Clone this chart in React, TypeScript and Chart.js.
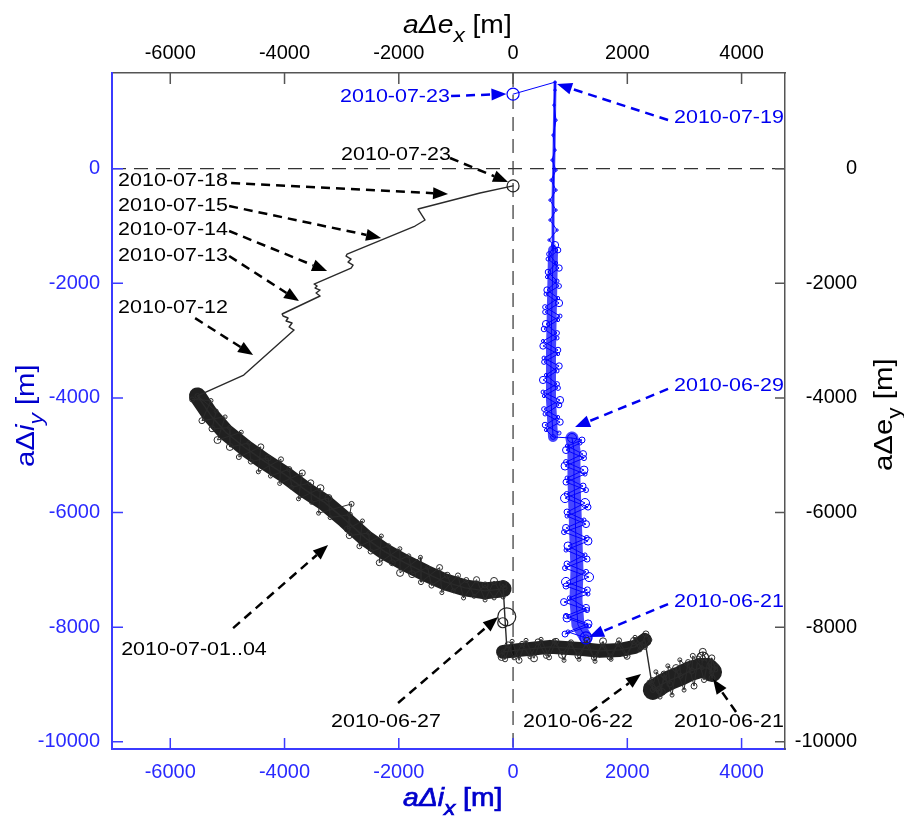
import React, { useEffect, useRef } from 'react';
import { Chart, registerables } from 'chart.js';

Chart.register(...registerables);

// ---------- axis ranges & ticks ----------
const X_MIN = -7020;
const X_MAX = 4760;
const Y_MIN = -10125;
const Y_MAX = 1670;
const xTicks = [-6000, -4000, -2000, 0, 2000, 4000];
const yTicks = [-10000, -8000, -6000, -4000, -2000, 0];

// ---------- eccentricity vector (black, top/right axes) ----------
const eccClusterX = [3483, 3413, 3273, 3098, 2923, 2748, 2608, 2503, 2447];
const eccClusterY = [-8783, -8713, -8713, -8765, -8852, -8922, -8992, -9062, -9093];
const eccClusterZigX = [3321, 3548, 3479, 3470, 3321, 3304, 3146, 3129, 2919, 2930, 2709, 2744, 2500, 2605, 2380, 2447, 2560, 2660];
const eccClusterZigY = [-8537, -8744, -8535, -8790, -8430, -8710, -8500, -8762, -8570, -8849, -8675, -8989, -8779, -9128, -8960, -9093, -9110, -8880];
const eccClusterZig2X = [2433, 2573, 2643, 2783, 2853, 2993, 3063, 3168, 3238, 3343, 3413, 3483, 3553];
const eccClusterZig2Y = [-8922, -9219, -8817, -9184, -8713, -9097, -8608, -9027, -8538, -8922, -8573, -8887, -8678];

const eccLowerX = [2307, 2133, 1870, 1521, 1171, 647, 122, -175];
const eccLowerY = [-8221, -8343, -8396, -8413, -8378, -8343, -8396, -8430];
const eccLowerZigX = [2307, 2395, 2325, 2220, 2115, 1975, 1835, 1696, 1556, 1416, 1276, 1136, 996, 857, 717, 577, 437, 297, 157, 17, -87, -175, -200];
const eccLowerZigY = [-8343, -8221, -8117, -8396, -8239, -8500, -8291, -8518, -8308, -8535, -8291, -8500, -8274, -8483, -8239, -8500, -8256, -8518, -8291, -8535, -8308, -8430, -8520];
const eccLowerZig2X = [-140, -17, 105, 227, 367, 490, 630, 752, 892, 1015, 1155, 1295, 1435, 1575, 1715, 1855, 1995, 2135, 2257];
const eccLowerZig2Y = [-8560, -8246, -8578, -8229, -8543, -8211, -8526, -8246, -8578, -8264, -8560, -8229, -8595, -8246, -8560, -8229, -8508, -8176, -8333];

const eccDropX = [-175, -110, -140, -170];
const eccDropY = [-8430, -8338, -7872, -7349];

const eccArcX = [-5524, -5297, -5035, -4685, -4336, -3986, -3636, -3287, -2937, -2587, -2238, -1888, -1538, -1189, -839, -490, -175];
const eccArcY = [-3964, -4296, -4593, -4872, -5116, -5342, -5604, -5831, -6127, -6441, -6685, -6877, -7052, -7209, -7313, -7366, -7331];
const eccArcZigX = [-5524, -5197, -5270, -4963, -4957, -4625, -4590, -4288, -4246, -3917, -3874, -3541, -3527, -3230, -3202, -2856, -2867, -2528, -2493, -2178, -2113, -1825, -1767, -1495, -1428, -1154, -1044, -818, -682, -489, -332, -175, -140];
const eccArcZigY = [-3966, -4229, -4538, -4517, -4855, -4787, -5110, -5047, -5363, -5241, -5558, -5480, -5821, -5745, -6087, -6036, -6402, -6357, -6680, -6578, -6875, -6755, -7074, -6957, -7274, -7093, -7363, -7177, -7461, -7262, -7489, -7245, -7315];
const eccArcZig2X = [-5618, -5287, -5446, -5040, -5173, -4757, -4800, -4415, -4459, -4062, -4085, -3689, -3756, -3371, -3404, -2826, -2902, -2636, -2690, -2305, -2342, -1981, -1978, -1621, -1612, -1286, -1246, -964, -866, -639, -490, -333, -175];
const eccArcZig2Y = [-4026, -4045, -4396, -4331, -4734, -4598, -5031, -4853, -5289, -5071, -5492, -5308, -5760, -5574, -6010, -5849, -6289, -6146, -6587, -6409, -6874, -6631, -7052, -6781, -7214, -6959, -7397, -7097, -7490, -7170, -7525, -7193, -7473];

const eccThinX = [-5524, -4714, -3833, -3920, -3868, -3973, -3938, -4025, -4043, -3378, -3448, -3378, -3465, -3430, -3483, -2835, -2800, -2888, -2835, -2923, -2905, -1715, -1540, -1663, -578, 0];
const eccThinY = [-3964, -3600, -2815, -2762, -2692, -2657, -2605, -2570, -2535, -2221, -2169, -2117, -2082, -2047, -2012, -1733, -1681, -1629, -1576, -1524, -1489, -1000, -895, -703, -424, -300];

const eccMarkX = [3321, -110, -180, 0];
const eccMarkY = [-8537, -7818, -7922, -300];

// ---------- inclination vector (blue, bottom/left axes) ----------
const incLowerX = [1276, 1136, 1101, 1119, 1101, 1084, 1066, 1066, 1031];
const incLowerY = [-8186, -7960, -7524, -7001, -6478, -5955, -5432, -4909, -4699];
const incLowerZigX = [1276, 962, 1312, 927, 1278, 985, 1300, 927, 1278, 945, 1260, 962, 1290, 927, 1242, 945, 1260, 940, 1225, 945, 1242, 927, 1225, 950, 1207, 1032];
const incLowerZigY = [-8186, -8082, -7942, -7803, -7663, -7489, -7349, -7210, -7035, -6896, -6739, -6582, -6443, -6268, -6129, -5990, -5833, -5676, -5537, -5397, -5258, -5118, -4979, -4839, -4734, -4699];
const incLowerZig2X = [910, 1330, 945, 1295, 892, 1312, 927, 1330, 910, 1295, 927, 1312, 892, 1277, 945, 1312, 910, 1277, 927, 1260, 910, 1242, 927, 1172];
const incLowerZig2Y = [-8119, -7980, -7840, -7701, -7561, -7421, -7282, -7125, -6968, -6811, -6654, -6497, -6340, -6201, -6061, -5904, -5747, -5607, -5468, -5328, -5188, -5049, -4909, -4787];

const incUpperX = [700, 664, 664, 682, 700];
const incUpperY = [-4681, -4036, -3163, -2291, -1420];
const incNeckX = [700, 700, 717, 735];
const incNeckY = [-1420, -548, 324, 1510];
const incUpperZigX = [700, 577, 822, 560, 805, 542, 787, 525, 770, 542, 787, 525, 770, 542, 787, 560, 805, 577, 805, 595, 805, 612, 787, 630, 770, 647, 752, 647, 752, 665, 752, 682, 735, 700, 752, 717, 735, 735];
const incUpperZigY = [-4681, -4559, -4420, -4280, -4123, -3966, -3826, -3686, -3529, -3372, -3233, -3093, -2954, -2797, -2640, -2501, -2344, -2187, -2047, -1890, -1733, -1576, -1420, -1245, -1071, -896, -722, -548, -373, -199, -24, 150, 324, 586, 847, 1109, 1371, 1510];
const incUpperZig2X = [805, 560, 787, 542, 822, 525, 770, 577, 805, 542, 787, 525, 770, 577, 822, 560, 787, 595, 770, 612, 752, 630, 735];
const incUpperZig2Y = [-4612, -4473, -4333, -4194, -4037, -3897, -3757, -3600, -3443, -3304, -3164, -3007, -2867, -2710, -2571, -2414, -2257, -2117, -1960, -1803, -1646, -1489, -1332];

const incTopX = [735, 0];
const incTopY = [1510, 1301];

const incMarkX = [1276, 0];
const incMarkY = [-8186, 1301];

// ---------- annotation texts ----------
const labelTexts = [
  '2010-07-23', '2010-07-19', '2010-07-23', '2010-07-18', '2010-07-15', '2010-07-14', '2010-07-13',
  '2010-07-12', '2010-07-01..04', '2010-06-27', '2010-06-22', '2010-06-21', '2010-06-29', '2010-06-21',
];

const BLUE_TXT = '#0000f0';
const BLACK = '#000000';
// text anchor (left, middle) and arrow tail/tip, in data units
const annotations = [
  { i: 0, c: BLUE_TXT, tx: -3028, ty: 1251, ax: -1085, ay: 1269, bx: -115, by: 1304 },
  { i: 1, c: BLUE_TXT, tx: 2818, ty: 885, ax: 2713, ay: 850, bx: 770, by: 1478 },
  { i: 2, c: BLACK, tx: -3010, ty: 239, ax: -1103, ay: 187, bx: -88, by: -232 },
  { i: 3, c: BLACK, tx: -6913, ty: -215, ax: -4935, ay: -250, bx: -1138, by: -441 },
  { i: 4, c: BLACK, tx: -6913, ty: -651, ax: -4970, ay: -651, bx: -2310, by: -1209 },
  { i: 5, c: BLACK, tx: -6913, ty: -1070, ax: -4970, ay: -1087, bx: -3255, by: -1785 },
  { i: 6, c: BLACK, tx: -6913, ty: -1523, ax: -4970, ay: -1523, bx: -3745, by: -2309 },
  { i: 7, c: BLACK, tx: -6913, ty: -2431, ax: -5565, ay: -2607, bx: -4550, by: -3252 },
  { i: 8, c: BLACK, tx: -6860, ty: -8399, ax: -4900, ay: -8015, bx: -3238, by: -6567 },
  { i: 9, c: BLACK, tx: -3185, ty: -9655, ax: -2013, ay: -9323, bx: -263, by: -7823 },
  { i: 10, c: BLACK, tx: 175, ty: -9655, ax: 1348, ay: -9480, bx: 2240, by: -8817 },
  { i: 11, c: BLACK, tx: 2818, ty: -9655, ax: 3903, ay: -9480, bx: 3500, by: -8905 },
  { i: 12, c: BLUE_TXT, tx: 2818, ty: -3791, ax: 2713, ay: -3843, bx: 1085, by: -4507 },
  { i: 13, c: BLUE_TXT, tx: 2818, ty: -7561, ax: 2713, ay: -7596, bx: 1330, by: -8172 },
];

const FAMILY = '"Liberation Sans", Arial, Helvetica, sans-serif';
const STRETCH = 1.13;
const BLUE_AXIS = '#3b3bff';
const BLUE_TICK = '#2a2aff';
const BLUE_TITLE = '#0000cc';
const GRAY_AXIS = '#555555';
const RADII = [3, 2, 4, 2.5, 3.5, 2, 3, 4.5, 2.5];
const RADII_K = [2.5, 2, 3, 2, 3.5, 2, 2.5, 3, 2];

const pts = (xs: number[], ys: number[]) => xs.map((x, k) => ({ x, y: ys[k] }));
const rev = (a: number[]) => a.slice().reverse();

function lineDs(xs: number[], ys: number[], color: string, width: number, order: number, extra: any = {}) {
  return {
    data: pts(xs, ys),
    showLine: true,
    borderColor: color,
    borderWidth: width,
    pointRadius: 0,
    pointHoverRadius: 0,
    fill: false,
    tension: 0,
    borderJoinStyle: 'round',
    borderCapStyle: 'round',
    order,
    ...extra,
  };
}

function zigDs(xs: number[], ys: number[], color: string, order: number, radius: any = (c: any) => RADII[c.dataIndex % RADII.length]) {
  return lineDs(xs, ys, color, 1, order, {
    pointRadius: radius,
    pointStyle: 'circle',
    pointBorderColor: color,
    pointBackgroundColor: 'rgba(0,0,0,0)',
    pointBorderWidth: 1,
  });
}

function markDs(xs: number[], ys: number[], color: string, radii: number[]) {
  return {
    data: pts(xs, ys),
    showLine: false,
    pointRadius: radii,
    pointHoverRadius: radii,
    pointStyle: 'circle',
    pointBorderColor: color,
    pointBackgroundColor: 'rgba(0,0,0,0)',
    pointBorderWidth: 1.2,
    order: 0,
  };
}

function drawStretchedText(ctx: CanvasRenderingContext2D, text: string, x: number, y: number, font: string, color: string) {
  ctx.save();
  ctx.font = font;
  ctx.fillStyle = color;
  ctx.textBaseline = 'middle';
  ctx.textAlign = 'left';
  ctx.translate(x, y);
  ctx.scale(STRETCH, 1);
  ctx.fillText(text, 0, 0);
  ctx.restore();
}

function drawArrow(ctx: CanvasRenderingContext2D, x1: number, y1: number, x2: number, y2: number, color: string) {
  const ang = Math.atan2(y2 - y1, x2 - x1);
  const L = 15;
  const W = 6;
  const bx = x2 - L * Math.cos(ang);
  const by = y2 - L * Math.sin(ang);
  ctx.save();
  ctx.strokeStyle = color;
  ctx.lineWidth = 2.5;
  ctx.setLineDash([9, 6]);
  ctx.beginPath();
  ctx.moveTo(x1, y1);
  ctx.lineTo(bx, by);
  ctx.stroke();
  ctx.setLineDash([]);
  ctx.fillStyle = color;
  ctx.beginPath();
  ctx.moveTo(x2, y2);
  ctx.lineTo(bx + W * Math.sin(ang), by - W * Math.cos(ang));
  ctx.lineTo(bx - W * Math.sin(ang), by + W * Math.cos(ang));
  ctx.closePath();
  ctx.fill();
  ctx.restore();
}

type Part = { t: string; font: string; dy?: number };
function drawRich(ctx: CanvasRenderingContext2D, parts: Part[], x: number, y: number, rot: number, color: string, bold = false) {
  ctx.save();
  ctx.translate(x, y);
  ctx.rotate(rot);
  ctx.scale(STRETCH, 1);
  ctx.fillStyle = color;
  ctx.strokeStyle = color;
  ctx.lineWidth = 0.7;
  ctx.textBaseline = 'alphabetic';
  ctx.textAlign = 'left';
  let cx = 0;
  for (const p of parts) {
    ctx.font = p.font;
    ctx.fillText(p.t, cx, p.dy || 0);
    if (bold) ctx.strokeText(p.t, cx, p.dy || 0);
    cx += ctx.measureText(p.t).width;
  }
  ctx.restore();
}

const overlayPlugin = {
  id: 'overlay',
  beforeDatasetsDraw(chart: any) {
    const { ctx, chartArea: ca } = chart;
    const xs = chart.scales.x;
    const ys = chart.scales.y;
    ctx.save();
    ctx.beginPath();
    ctx.rect(ca.left, ca.top, ca.right - ca.left, ca.bottom - ca.top);
    ctx.clip();
    ctx.strokeStyle = '#333333';
    ctx.lineWidth = 1.2;
    ctx.setLineDash([14, 8]);
    const x0 = xs.getPixelForValue(0);
    const y0 = ys.getPixelForValue(0);
    ctx.beginPath();
    ctx.moveTo(x0, ca.top);
    ctx.lineTo(x0, ca.bottom);
    ctx.moveTo(ca.left, y0);
    ctx.lineTo(ca.right, y0);
    ctx.stroke();
    ctx.restore();
  },
  afterDraw(chart: any) {
    const { ctx, chartArea: ca } = chart;
    const xs = chart.scales.x;
    const ys = chart.scales.y;
    // inward tick marks
    ctx.save();
    ctx.lineWidth = 1.5;
    ctx.strokeStyle = BLUE_AXIS;
    ctx.beginPath();
    for (const v of xTicks) {
      const px = xs.getPixelForValue(v);
      ctx.moveTo(px, ca.bottom);
      ctx.lineTo(px, ca.bottom - 11);
    }
    for (const v of yTicks) {
      const py = ys.getPixelForValue(v);
      ctx.moveTo(ca.left, py);
      ctx.lineTo(ca.left + 11, py);
    }
    ctx.stroke();
    ctx.strokeStyle = GRAY_AXIS;
    ctx.beginPath();
    for (const v of xTicks) {
      const px = xs.getPixelForValue(v);
      ctx.moveTo(px, ca.top);
      ctx.lineTo(px, ca.top + 11);
    }
    for (const v of yTicks) {
      const py = ys.getPixelForValue(v);
      ctx.moveTo(ca.right, py);
      ctx.lineTo(ca.right - 10, py);
    }
    ctx.stroke();
    ctx.restore();

    // annotations
    for (const a of annotations) {
      drawArrow(ctx, xs.getPixelForValue(a.ax), ys.getPixelForValue(a.ay), xs.getPixelForValue(a.bx), ys.getPixelForValue(a.by), a.c);
      drawStretchedText(ctx, labelTexts[a.i], xs.getPixelForValue(a.tx), ys.getPixelForValue(a.ty), `19px ${FAMILY}`, a.c);
    }

    // axis titles
    drawRich(ctx, [
      { t: 'aΔe', font: `italic 25px ${FAMILY}` },
      { t: 'x', font: `italic 20px ${FAMILY}`, dy: 9 },
      { t: ' [m]', font: `25px ${FAMILY}` },
    ], 403, 33, 0, '#000000');
    drawRich(ctx, [
      { t: 'aΔi', font: `italic 25px ${FAMILY}` },
      { t: 'x', font: `italic 20px ${FAMILY}`, dy: 9 },
      { t: ' [m]', font: `25px ${FAMILY}` },
    ], 403, 806, 0, BLUE_TITLE, true);
    drawRich(ctx, [
      { t: 'aΔ', font: `26px ${FAMILY}` },
      { t: 'i', font: `italic 26px ${FAMILY}` },
      { t: 'y', font: `italic 20px ${FAMILY}`, dy: 9 },
      { t: ' [m]', font: `26px ${FAMILY}` },
    ], 34, 467, -Math.PI / 2, BLUE_TITLE);
    drawRich(ctx, [
      { t: 'aΔe', font: `26px ${FAMILY}` },
      { t: 'y', font: `20px ${FAMILY}`, dy: 9 },
      { t: ' [m]', font: `26px ${FAMILY}` },
    ], 892, 471, -Math.PI / 2, '#000000');
  },
};

export default function App() {
  const ref = useRef<HTMLCanvasElement | null>(null);

  useEffect(() => {
    if (!ref.current) return;

    const eccTrackX = [...eccClusterX, ...eccLowerX, ...eccDropX, ...rev(eccArcX), ...eccThinX];
    const eccTrackY = [...eccClusterY, ...eccLowerY, ...eccDropY, ...rev(eccArcY), ...eccThinY];
    const incTrackX = [...incLowerX, ...incUpperX, ...incNeckX, ...incTopX];
    const incTrackY = [...incLowerY, ...incUpperY, ...incNeckY, ...incTopY];

    const BAND_K = 'rgba(8,8,8,0.9)';
    const ZIG_K = '#2a2a2a';
    const BAND_B = 'rgba(0,0,255,0.72)';
    const BLUE = '#0000ff';
    const radK = (c: any) => RADII_K[c.dataIndex % RADII_K.length];

    const datasets: any[] = [
      markDs(eccMarkX, eccMarkY, '#222222', [6, 9, 5, 6]),
      markDs(incMarkX, incMarkY, BLUE, [6, 6]),
      lineDs(eccTrackX, eccTrackY, '#2a2a2a', 1.4, 1),
      lineDs(incTrackX, incTrackY, BLUE, 1, 1),
      zigDs(eccArcZigX, eccArcZigY, ZIG_K, 2, radK),
      zigDs(eccArcZig2X, eccArcZig2Y, ZIG_K, 2, radK),
      zigDs(eccLowerZigX, eccLowerZigY, ZIG_K, 2, radK),
      zigDs(eccLowerZig2X, eccLowerZig2Y, ZIG_K, 2, radK),
      zigDs(eccClusterZigX, eccClusterZigY, ZIG_K, 2, radK),
      zigDs(eccClusterZig2X, eccClusterZig2Y, ZIG_K, 2, radK),
      zigDs(incLowerZigX, incLowerZigY, BLUE, 2),
      zigDs(incLowerZig2X, incLowerZig2Y, BLUE, 2),
      zigDs(incUpperZigX, incUpperZigY, BLUE, 2, (c: any) => (c.raw && c.raw.y > -1300 ? 1.2 : RADII[c.dataIndex % RADII.length] * 0.8)),
      zigDs(incUpperZig2X, incUpperZig2Y, BLUE, 2, (c: any) => RADII[(c.dataIndex + 3) % RADII.length] * 0.8),
      lineDs(eccArcX, eccArcY, BAND_K, 17, 3),
      lineDs(eccLowerX, eccLowerY, BAND_K, 14, 3),
      lineDs(eccClusterX, eccClusterY, BAND_K, 20, 3),
      lineDs(incLowerX, incLowerY, BAND_B, 13, 3),
      lineDs(incUpperX, incUpperY, BAND_B, 10, 3),
      lineDs(incNeckX, incNeckY, BAND_B, 3, 3),
    ];
    datasets.forEach((d) => {
      d.xAxisID = 'x';
      d.yAxisID = 'y';
    });

    const tickFont = { family: FAMILY, size: 20 };
    const fmt = (v: any) => String(v);

    const chart = new Chart(ref.current, {
      type: 'scatter',
      data: { datasets },
      plugins: [overlayPlugin],
      options: {
        animation: false,
        responsive: false,
        maintainAspectRatio: false,
        layout: { padding: { left: 0, top: 0, bottom: 0, right: 47 } },
        events: [],
        plugins: { legend: { display: false }, tooltip: { enabled: false }, title: { display: false } },
        scales: {
          x: {
            type: 'linear',
            position: 'bottom',
            min: X_MIN,
            max: X_MAX,
            afterBuildTicks: (s: any) => { s.ticks = xTicks.map((v) => ({ value: v })); },
            afterFit: (s: any) => { s.height = 68; },
            grid: { display: false, drawTicks: false },
            border: { display: true, color: BLUE_AXIS, width: 2 },
            ticks: { color: BLUE_TICK, font: tickFont, padding: 11, maxRotation: 0, autoSkip: false, callback: fmt },
          },
          x2: {
            type: 'linear',
            axis: 'x',
            position: 'top',
            min: X_MIN,
            max: X_MAX,
            afterBuildTicks: (s: any) => { s.ticks = xTicks.map((v) => ({ value: v })); },
            afterFit: (s: any) => { s.height = 73; },
            grid: { display: false, drawTicks: false },
            border: { display: true, color: GRAY_AXIS, width: 1.5 },
            ticks: { color: '#000000', font: tickFont, padding: 8, maxRotation: 0, autoSkip: false, callback: fmt },
          },
          y: {
            type: 'linear',
            position: 'left',
            min: Y_MIN,
            max: Y_MAX,
            afterBuildTicks: (s: any) => { s.ticks = yTicks.map((v) => ({ value: v })); },
            afterFit: (s: any) => { s.width = 112; },
            grid: { display: false, drawTicks: false },
            border: { display: true, color: BLUE_AXIS, width: 2 },
            ticks: { color: BLUE_TICK, font: tickFont, padding: 12, autoSkip: false, callback: fmt },
          },
          y2: {
            type: 'linear',
            axis: 'y',
            position: 'right',
            min: Y_MIN,
            max: Y_MAX,
            afterBuildTicks: (s: any) => { s.ticks = yTicks.map((v) => ({ value: v })); },
            afterFit: (s: any) => { s.width = 72; },
            grid: { display: false, drawTicks: false },
            border: { display: true, color: GRAY_AXIS, width: 1.5 },
            ticks: { color: '#000000', font: tickFont, padding: 10, crossAlign: 'far', autoSkip: false, callback: fmt },
          },
        },
      } as any,
    } as any);

    return () => chart.destroy();
  }, []);

  return (
    <div style={{ position: 'absolute', left: 0, top: 0, width: 904, height: 817, background: '#ffffff' }}>
      <canvas ref={ref} width={904} height={817} style={{ display: 'block' }} />
    </div>
  );
}
